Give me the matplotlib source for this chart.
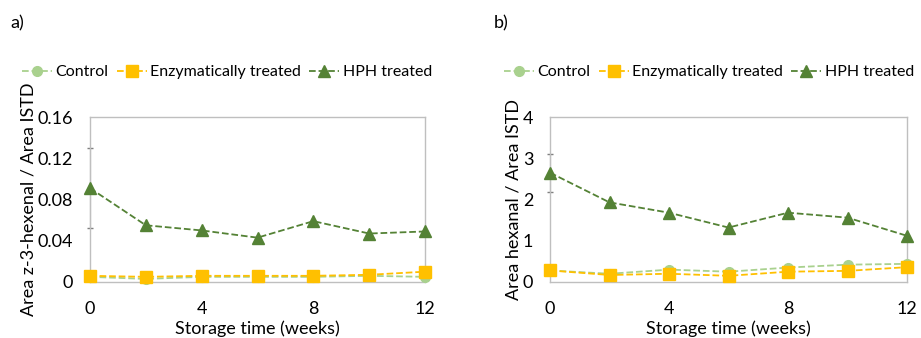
import matplotlib.pyplot as plt

plt.rcParams['font.family'] = ['Lato', 'DejaVu Sans']

weeks = [0, 2, 4, 6, 8, 10, 12]

# a) z-3-hexenal
ctrl_a = [0.005, 0.003, 0.005, 0.005, 0.005, 0.006, 0.005]
enz_a = [0.006, 0.005, 0.006, 0.006, 0.006, 0.007, 0.010]
hph_a = [0.091, 0.055, 0.050, 0.043, 0.059, 0.047, 0.049]
hph_a_err = [0.039, 0, 0, 0, 0, 0, 0]

# b) hexanal
ctrl_b = [0.28, 0.20, 0.30, 0.25, 0.35, 0.42, 0.44]
enz_b = [0.28, 0.17, 0.20, 0.15, 0.25, 0.27, 0.36]
hph_b = [2.65, 1.93, 1.68, 1.32, 1.68, 1.56, 1.12]
hph_b_err = [0.46, 0, 0, 0, 0, 0, 0]

labels = ["Control", "Enzymatically treated", "HPH treated"]
C_CTRL, C_ENZ, C_HPH = "#A9D18E", "#FFC000", "#548235"

W, H = 921, 338
fig = plt.figure(figsize=(W / 100, H / 100), dpi=100)


def px_axes(x0, y0, x1, y1):
    return fig.add_axes([x0 / W, 1 - y1 / H, (x1 - x0) / W, (y1 - y0) / H])


def panel(ax, ctrl, enz, hph, err, ymax, yticks, yticklabels, ylabel):
    ax.plot(weeks, ctrl, ls="--", color=C_CTRL, marker="o", ms=7, lw=1.3,
            label=labels[0], clip_on=False, zorder=3)
    ax.plot(weeks, enz, ls="--", color=C_ENZ, marker="s", ms=8, lw=1.3,
            label=labels[1], clip_on=False, zorder=4)
    e = [v if v else float('nan') for v in err]
    ax.errorbar(weeks, hph, yerr=[e, e], fmt="none", ecolor="#7f7f7f",
                elinewidth=0.8, capsize=2, zorder=2, clip_on=False)
    ax.plot(weeks, hph, ls="--", color=C_HPH, marker="^", ms=8, lw=1.3,
            label=labels[2], clip_on=False, zorder=5)
    ax.set_xlim(0, 12)
    ax.set_ylim(0, ymax)
    ax.set_xticks([0, 4, 8, 12])
    ax.set_yticks(yticks)
    ax.set_yticklabels(yticklabels)
    ax.tick_params(length=0, labelsize=13)
    ax.tick_params(axis="x", pad=14)
    ax.tick_params(axis="y", pad=12)
    for s in ax.spines.values():
        s.set_color("#BFBFBF")
        s.set_linewidth(1)
    ax.set_xlabel("Storage time (weeks)", fontsize=13, labelpad=2)
    ax.set_ylabel(ylabel, fontsize=13, labelpad=1)


ax1 = px_axes(90, 117, 425, 282)
panel(ax1, ctrl_a, enz_a, hph_a, hph_a_err, 0.16,
      [0, 0.04, 0.08, 0.12, 0.16], ["0", "0.04", "0.08", "0.12", "0.16"],
      "Area z-3-hexenal / Area ISTD")
ax2 = px_axes(550, 117, 907, 282)
panel(ax2, ctrl_b, enz_b, hph_b, hph_b_err, 4,
      [0, 1, 2, 3, 4], ["0", "1", "2", "3", "4"],
      "Area hexanal / Area ISTD")

for ax, xc in ((ax1, 227 / W), (ax2, 709 / W)):
    ax.legend(loc="center", bbox_to_anchor=(xc, 1 - 72 / H),
              bbox_transform=fig.transFigure, ncol=3, frameon=False,
              fontsize=11.5, handlelength=1.9, handletextpad=0.2,
              columnspacing=0.5, borderaxespad=0, borderpad=0)

fig.text(10 / W, 1 - 23 / H, "a)", fontsize=13, va="center")
fig.text(494 / W, 1 - 23 / H, "b)", fontsize=13, va="center")

fig.savefig("out.png", dpi=100)
